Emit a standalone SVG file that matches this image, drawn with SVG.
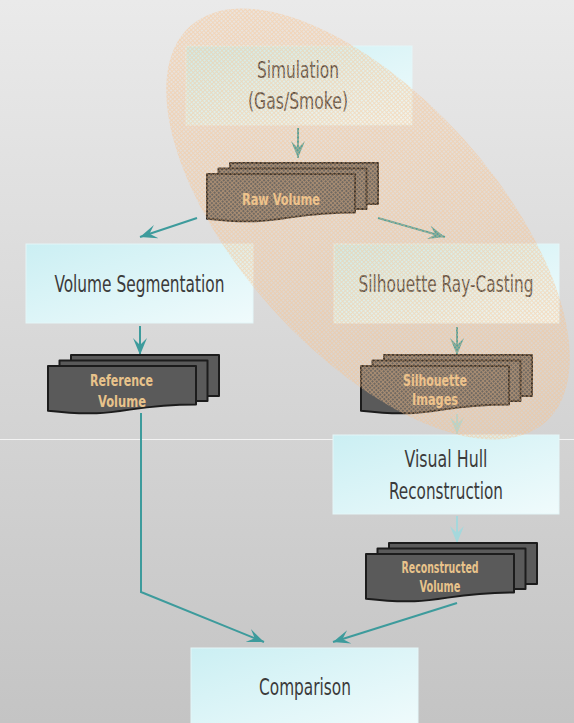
<svg xmlns="http://www.w3.org/2000/svg" width="574" height="723" viewBox="0 0 574 723">
  <defs>
    <linearGradient id="bg" x1="0" y1="0" x2="0" y2="1">
      <stop offset="0" stop-color="#eaeaea"/>
      <stop offset="1" stop-color="#c4c4c4"/>
    </linearGradient>
    <linearGradient id="boxFill" x1="0" y1="0" x2="1" y2="1">
      <stop offset="0" stop-color="#cbeff3"/>
      <stop offset="1" stop-color="#f0fbfc"/>
    </linearGradient>
    <pattern id="grid" width="3" height="3" patternUnits="userSpaceOnUse">
      <rect width="3" height="3" fill="#fac896" fill-opacity="0.14"/>
      <rect width="3" height="1" fill="#f9c08a" fill-opacity="0.42"/>
      <rect y="1" width="1" height="2" fill="#f9c08a" fill-opacity="0.42"/>
    </pattern>
    <marker id="head" viewBox="-17 -8 18 16" markerWidth="18" markerHeight="16" refX="0" refY="0" orient="auto" markerUnits="userSpaceOnUse">
      <path d="M0,0 L-17,-7 L-10,0 L-17,7 Z" fill="#3d9b9c"/>
    </marker>
    <marker id="headLight" viewBox="-17 -8 18 16" markerWidth="18" markerHeight="16" refX="0" refY="0" orient="auto" markerUnits="userSpaceOnUse">
      <path d="M0,0 L-17,-7 L-10,0 L-17,7 Z" fill="#a5d8dc"/>
    </marker>
    <!-- stacked documents: front page origin at (0,0), 148 x 48 -->
    <g id="multidoc">
      <rect x="23" y="-11" width="148" height="41" class="page"/>
      <rect x="11.5" y="-5.5" width="148" height="40.5" class="page"/>
      <path d="M0,0 H148 V38.5 C74,38.5 74,53.1 0,44.8 Z" class="page"/>
    </g>
  </defs>
  <style>
    .box { fill: url(#boxFill); stroke: #e4f6f8; stroke-width: 1; }
    .label { font-family: "Liberation Sans Narrow", "DejaVu Sans Condensed", "Liberation Sans", sans-serif; font-stretch: condensed; font-size: 23px; fill: #3b3b3b; text-anchor: middle; }
    .doclabel { font-family: "Liberation Sans Narrow", "DejaVu Sans Condensed", "Liberation Sans", sans-serif; font-stretch: condensed; font-weight: bold; font-size: 16px; fill: #e8c38b; text-anchor: middle; }
    .page { fill: #5a5a5a; stroke: #1c1c1c; stroke-width: 2; stroke-linejoin: round; }
    .edge { fill: none; stroke: #3d9b9c; stroke-width: 2; marker-end: url(#head); }
    .edge.light { stroke: #a5d8dc; marker-end: url(#headLight); }
  </style>

  <!-- backdrop -->
  <rect width="574" height="723" fill="url(#bg)"/>
  <line x1="0" y1="439.5" x2="574" y2="439.5" stroke="#f3f3f3" stroke-width="1"/>

  <!-- connectors -->
  <g id="connectors">
    <line class="edge" x1="298" y1="128" x2="298" y2="158"/>
    <line class="edge" x1="197" y1="218" x2="140" y2="237"/>
    <line class="edge" x1="378" y1="218" x2="445" y2="237"/>
    <line class="edge" x1="140" y1="326" x2="140" y2="355"/>
    <line class="edge" x1="457" y1="327" x2="457" y2="355"/>
    <line class="edge light" x1="457" y1="414" x2="457" y2="434"/>
    <line class="edge light" x1="457" y1="516" x2="457" y2="543"/>
    <polyline class="edge" points="141,413 141,592 264,642"/>
    <line class="edge" x1="457" y1="603" x2="333" y2="642"/>
  </g>

  <g id="simulation">
    <rect class="box" x="186" y="46" width="226" height="79"/>
    <text class="label" x="298" y="78" textLength="82" lengthAdjust="spacingAndGlyphs">Simulation</text>
    <text class="label" x="298" y="109" textLength="100" lengthAdjust="spacingAndGlyphs">(Gas/Smoke)</text>
  </g>

  <g id="raw-volume">
    <use href="#multidoc" transform="translate(207,174)"/>
    <text class="doclabel" x="281" y="205" textLength="78" lengthAdjust="spacingAndGlyphs">Raw Volume</text>
  </g>

  <g id="volume-segmentation">
    <rect class="box" x="26" y="244" width="227" height="79"/>
    <text class="label" x="139.5" y="292" textLength="170" lengthAdjust="spacingAndGlyphs">Volume Segmentation</text>
  </g>

  <g id="silhouette-ray-casting">
    <rect class="box" x="334" y="244" width="225" height="79"/>
    <text class="label" x="446" y="292" textLength="175" lengthAdjust="spacingAndGlyphs">Silhouette Ray-Casting</text>
  </g>

  <g id="reference-volume">
    <use href="#multidoc" transform="translate(48,366)"/>
    <text class="doclabel" x="121.5" y="386" textLength="63" lengthAdjust="spacingAndGlyphs">Reference</text>
    <text class="doclabel" x="122" y="407" textLength="48" lengthAdjust="spacingAndGlyphs">Volume</text>
  </g>

  <g id="silhouette-images">
    <use href="#multidoc" transform="translate(361,366)"/>
    <text class="doclabel" x="435" y="386" textLength="64" lengthAdjust="spacingAndGlyphs">Silhouette</text>
    <text class="doclabel" x="435" y="405" textLength="46" lengthAdjust="spacingAndGlyphs">Images</text>
  </g>

  <g id="visual-hull">
    <rect class="box" x="333" y="435" width="226" height="79"/>
    <text class="label" x="446" y="467" textLength="83" lengthAdjust="spacingAndGlyphs">Visual Hull</text>
    <text class="label" x="446" y="499" textLength="114" lengthAdjust="spacingAndGlyphs">Reconstruction</text>
  </g>

  <g id="reconstructed-volume">
    <use href="#multidoc" transform="translate(366,554)"/>
    <text class="doclabel" x="440" y="573" textLength="77" lengthAdjust="spacingAndGlyphs">Reconstructed</text>
    <text class="doclabel" x="440" y="592" textLength="41" lengthAdjust="spacingAndGlyphs">Volume</text>
  </g>

  <g id="comparison">
    <rect class="box" x="191" y="648" width="227" height="80"/>
    <text class="label" x="305" y="695" textLength="92" lengthAdjust="spacingAndGlyphs">Comparison</text>
  </g>

  <!-- highlighted region over the simulation branch -->
  <g id="highlight">
    <ellipse cx="368" cy="224" rx="266" ry="128" transform="rotate(48 368 224)" fill="url(#grid)"/>
  </g>
</svg>
